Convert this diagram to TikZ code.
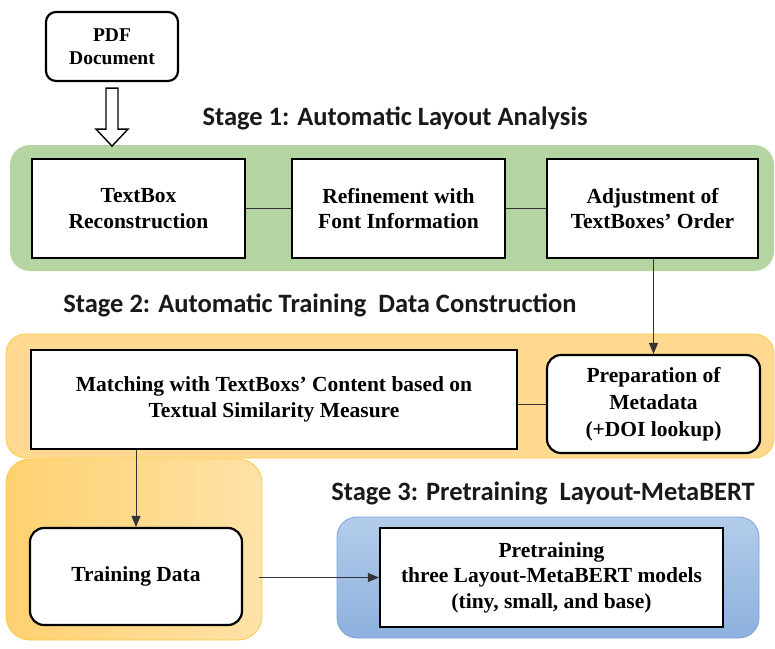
\documentclass[tikz,border=0pt]{standalone}
\usepackage{fontspec}
\setmainfont{Liberation Serif}
\newfontfamily\titlefont{Carlito}
\usetikzlibrary{arrows.meta,calc}
\definecolor{greenpanel}{HTML}{B4D5A1}
\definecolor{orangepanel}{HTML}{FFD98F}
\definecolor{orangeedge}{HTML}{FFC845}
\definecolor{orangedark}{HTML}{FFD170}
\definecolor{orangelight}{HTML}{FFE2A8}
\definecolor{bluetop}{HTML}{B3CCEA}
\definecolor{bluebot}{HTML}{8DB1DE}
\definecolor{blueedge}{HTML}{7EA5D8}
\definecolor{linegray}{HTML}{333333}
\tikzset{
  boxtext/.style={font=\fontsize{21.5}{25.5}\selectfont\bfseries, align=center, text=black},
  sqbox/.style={boxtext, draw=black, line width=2.2pt, fill=white, inner sep=0pt},
  rdbox/.style={sqbox, rounded corners=14pt},
  titletext/.style={font=\titlefont\fontsize{26.5}{31}\selectfont\bfseries, text=black!90, inner sep=0pt},
  link/.style={draw=linegray, line width=0.9pt},
  arrowlink/.style={link, -{Triangle[width=9pt,length=11pt]}},
}
\begin{document}
\begin{tikzpicture}[x=1pt,y=1pt]
\useasboundingbox (0,0) rectangle (775,-648);
% panels
\fill[greenpanel, rounded corners=20pt] (10,-145) rectangle (774,-271);
\shade[left color=orangedark, right color=orangelight, rounded corners=24pt, draw=orangeedge, line width=0.8pt] (6,-459) rectangle (262,-640);
\fill[orangepanel, rounded corners=20pt, draw=orangeedge, line width=0.8pt] (6,-334) rectangle (774,-458);
\shade[top color=bluetop, bottom color=bluebot, rounded corners=20pt, draw=blueedge, line width=0.8pt] (337,-517) rectangle (759,-638);
% titles
\node[titletext] (t1) at (395,-118) {Stage 1: Automatic Layout Analysis};
\node[titletext] (t2) at (320,-305) {Stage 2: Automatic Training~ Data Construction};
\node[titletext] (t3) at (543,-493) {Stage 3: Pretraining~ Layout-MetaBERT};
% PDF document
\node[rdbox, rounded corners=10pt, minimum width=132pt, minimum height=69pt, font=\fontsize{19.5}{23}\selectfont\bfseries] (pdf) at (112,-46.5) {PDF\\Document};
% hollow arrow
\draw[line width=1.4pt, fill=white] ($(pdf.south)+(-6,-6)$) -- ++(0,-41) -- ++(-10,0) -- ($(pdf.south)+(0,-64)$) -- ++(16,17) -- ++(-10,0) -- ++(0,41) -- cycle;
% stage 1 boxes
\node[sqbox, minimum width=213pt, minimum height=99pt] (tb) at (138.5,-208.5) {TextBox\\Reconstruction};
\node[sqbox, minimum width=213pt, minimum height=99pt] (rf) at (398.5,-208.5) {Refinement with\\Font Information};
\node[sqbox, minimum width=211pt, minimum height=99pt] (ad) at (652.5,-208.5) {Adjustment of\\TextBoxes' Order};
\draw[link] (tb.east) -- (rf.west);
\draw[link] (rf.east) -- (ad.west);
% stage 2 boxes
\node[sqbox, minimum width=486pt, minimum height=99pt] (mt) at (274,-399.5) {Matching with TextBoxs' Content based on\\Textual Similarity Measure};
\node[rdbox, minimum width=213pt, minimum height=98pt, font=\fontsize{21.5}{27}\selectfont\bfseries] (pm) at (653.5,-404) {Preparation of\\Metadata\\(+DOI lookup)};
\draw[arrowlink] (ad.south -| pm.north) -- (pm.north);
\draw[link] (pm.west) -- (pm.west -| mt.east);
% stage 3
\node[rdbox, minimum width=212pt, minimum height=97pt] (td) at (136,-576.5) {Training Data};
\node[sqbox, minimum width=343pt, minimum height=99pt] (pt) at (551.5,-577.5) {Pretraining\\three Layout-MetaBERT models\\(tiny, small, and base)};
\draw[arrowlink] (mt.south -| td.north) -- (td.north);
\coordinate (tdout) at ($(td.east)+(16,-1)$);
\draw[arrowlink] (tdout) -- (tdout -| pt.west);
\end{tikzpicture}
\end{document}
